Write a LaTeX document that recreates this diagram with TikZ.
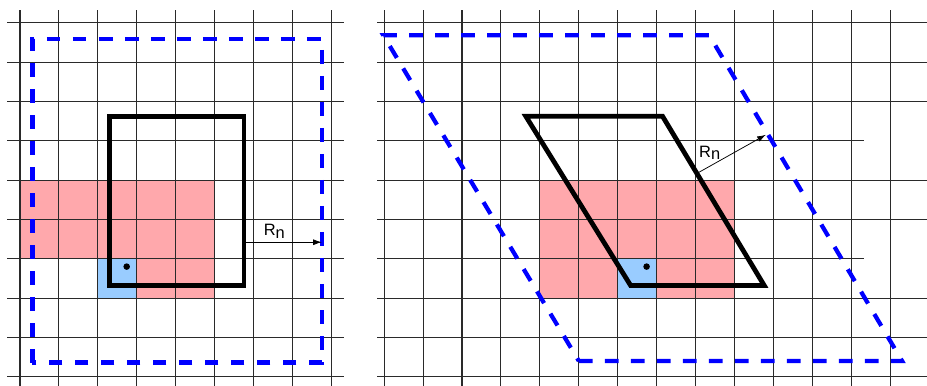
\documentclass[tikz,border=0pt]{standalone}
\usepackage{fontspec}
\setsansfont{Liberation Sans}
\usetikzlibrary{arrows.meta}
\definecolor{cellred}{HTML}{FFA8AC}
\definecolor{cellblue}{HTML}{99CCFF}
\definecolor{gridline}{HTML}{2A2A2A}
\definecolor{halo}{HTML}{0000FF}

\begin{document}
\begin{tikzpicture}[x=1cm, y=1.01cm,
  font=\sffamily,
  gridrule/.style={draw=gridline, line width=0.8pt},
  cellbox/.style={draw=black, line width=3.5pt, line join=miter},
  halobox/.style={draw=halo, line width=3.1pt, dash pattern=on 10pt off 9pt},
  rn/.style={font=\sffamily\fontsize{12}{14}\selectfont, text=black, inner sep=1pt},
  arrow/.style={-{Latex[length=2.2mm,width=1.5mm]}, line width=0.55pt, draw=black},
  atom/.style={circle, fill=black, inner sep=0pt, minimum size=4.8pt}
]
\useasboundingbox (-0.513,-0.211) rectangle (23.29,9.578);

% left: rectangular cell
\begin{scope}
  \fill[cellred] (0,3) rectangle (5,5) (3,2) rectangle (5,3);
  \fill[cellblue] (2,2) rectangle (3,3);
  \foreach \i in {0,...,8} \draw[gridrule] (\i,-0.25) -- (\i,9.32);
  \foreach \j in {0,...,9} \draw[gridrule] (-0.33,\j) -- (8.32,\j);
  \draw[halobox] (0.32,0.36) rectangle (7.75,8.59);
  \draw[cellbox] (2.3,2.32) rectangle (5.75,6.61);
  \node[atom] (atomL) at (2.74,2.8) {};
  \coordinate (rnLa) at (5.79,3.42);
  \coordinate (rnLb) at (7.75,3.42);
  \draw[arrow] (rnLa) -- (rnLb);
  \node[rn] (labL) at (6.53,3.69) {R\raisebox{-2pt}{n}};
\end{scope}

% right: sheared cell
\begin{scope}[shift={(9.35,0)}]
  \fill[cellred] (4,2) rectangle (9,5);
  \fill[cellblue] (6,2) rectangle (7,3);
  \foreach \i in {0,...,13} \draw[gridrule] (\i,-0.25) -- (\i,9.32);
  \foreach \j in {0,1,2,4,5,7,8,9} \draw[gridrule] (-0.17,\j) -- (13.95,\j);
  \foreach \j in {3,6} \draw[gridrule] (-0.17,\j) -- (12.31,\j);
  \draw[halobox] (5.0,0.4) -- (13.3,0.4) -- (8.35,8.68) -- (-0.02,8.68) -- cycle;
  \draw[cellbox] (6.33,2.32) -- (9.76,2.32) -- (7.15,6.62) -- (3.64,6.62) -- cycle;
  \node[atom] (atomR) at (6.74,2.8) {};
  \coordinate (rnRa) at (8.07,5.19);
  \coordinate (rnRb) at (9.80,6.15);
  \draw[arrow] (rnRa) -- (rnRb);
  \node[rn] (labR) at (8.36,5.69) {R\raisebox{-2pt}{n}};
\end{scope}

\end{tikzpicture}
\end{document}
